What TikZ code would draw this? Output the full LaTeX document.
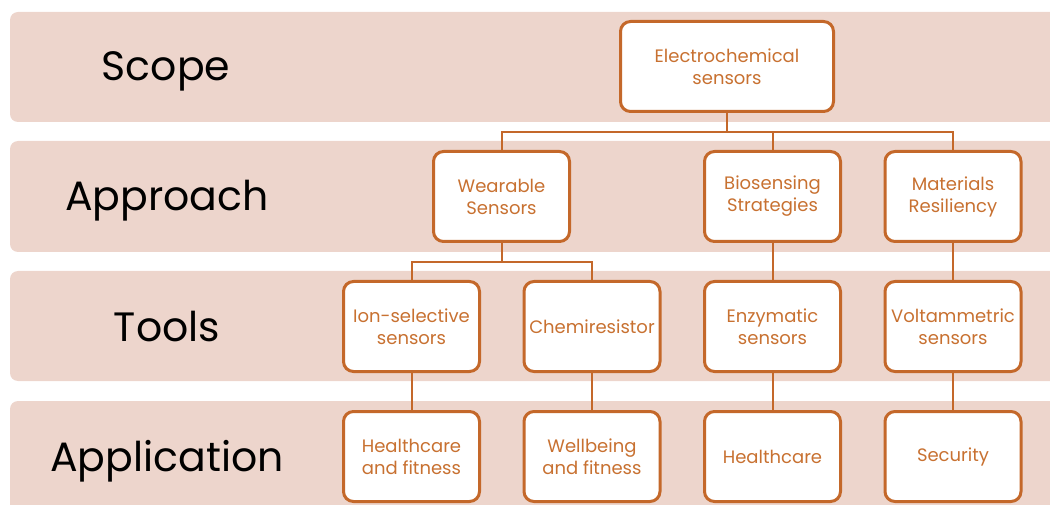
\documentclass[tikz,border=0pt]{standalone}
\usepackage{fontspec}
\setmainfont{Poppins}
\usetikzlibrary{positioning}
\definecolor{bandc}{HTML}{EDD5CC}
\definecolor{edgec}{HTML}{C4682A}
\definecolor{textc}{HTML}{C87131}
\tikzset{
  band/.style={fill=bandc,rounded corners=8pt},
  lvl/.style={font=\fontsize{41}{46}\selectfont,text=black,anchor=base},
  box/.style={draw=edgec,line width=3pt,rounded corners=10pt,fill=white,minimum width=136pt,minimum height=90pt,align=center,text=textc,font=\fontsize{18}{22}\selectfont,inner sep=2pt},
  ln/.style={edgec,line width=2pt}
}
\begin{document}
\begin{tikzpicture}[x=1pt,y=1pt]
\clip (0,0) rectangle (1050,-505);
% level bands
\fill[band] (10,-12) rectangle (1070,-122);
\fill[band] (10,-141) rectangle (1070,-252);
\fill[band] (10,-271) rectangle (1070,-381);
\fill[band] (10,-401) rectangle (1070,-530);
\node[lvl] (scope) at (166,-81) {Scope};
\node[lvl] (appr) at (167,-211) {Approach};
\node[lvl] (tools) at (167,-341) {Tools};
\node[lvl] (appl) at (167,-471) {Application};
% tree
\node[box,minimum width=213pt] (elec) at (727,-66.5) {Electrochemical\\sensors};
\node[box] (wear) at (501.5,-196.5) {Wearable\\Sensors};
\node[box] (bio) at (772.5,-196.5) {Biosensing\\Strategies};
\node[box] (mat) at (953,-196.5) {Materials\\Resiliency};
\node[box] (ion) at (411.5,-326.5) {Ion-selective\\sensors};
\node[box] (chem) at (592,-326.5) {Chemiresistor};
\node[box] (enz) at (772.5,-326.5) {Enzymatic\\sensors};
\node[box] (volt) at (953,-326.5) {Voltammetric\\sensors};
\node[box] (hc1) at (411.5,-456.5) {Healthcare\\and fitness};
\node[box] (wb) at (592,-456.5) {Wellbeing\\and fitness};
\node[box] (hc2) at (772.5,-456.5) {Healthcare};
\node[box] (sec) at (953,-456.5) {Security};
% connectors
\coordinate (j1) at (727,-132);
\coordinate (j2) at (501.5,-262);
\draw[ln] (elec.south) -- (j1);
\draw[ln] (wear.north) |- (j1) -| (mat.north);
\draw[ln] (bio.north) |- (j1);
\draw[ln] (wear.south) -- (j2);
\draw[ln] (ion.north) |- (j2) -| (chem.north);
\draw[ln] (bio) -- (enz);
\draw[ln] (mat) -- (volt);
\draw[ln] (ion) -- (hc1);
\draw[ln] (chem) -- (wb);
\draw[ln] (enz) -- (hc2);
\draw[ln] (volt) -- (sec);
\end{tikzpicture}
\end{document}
